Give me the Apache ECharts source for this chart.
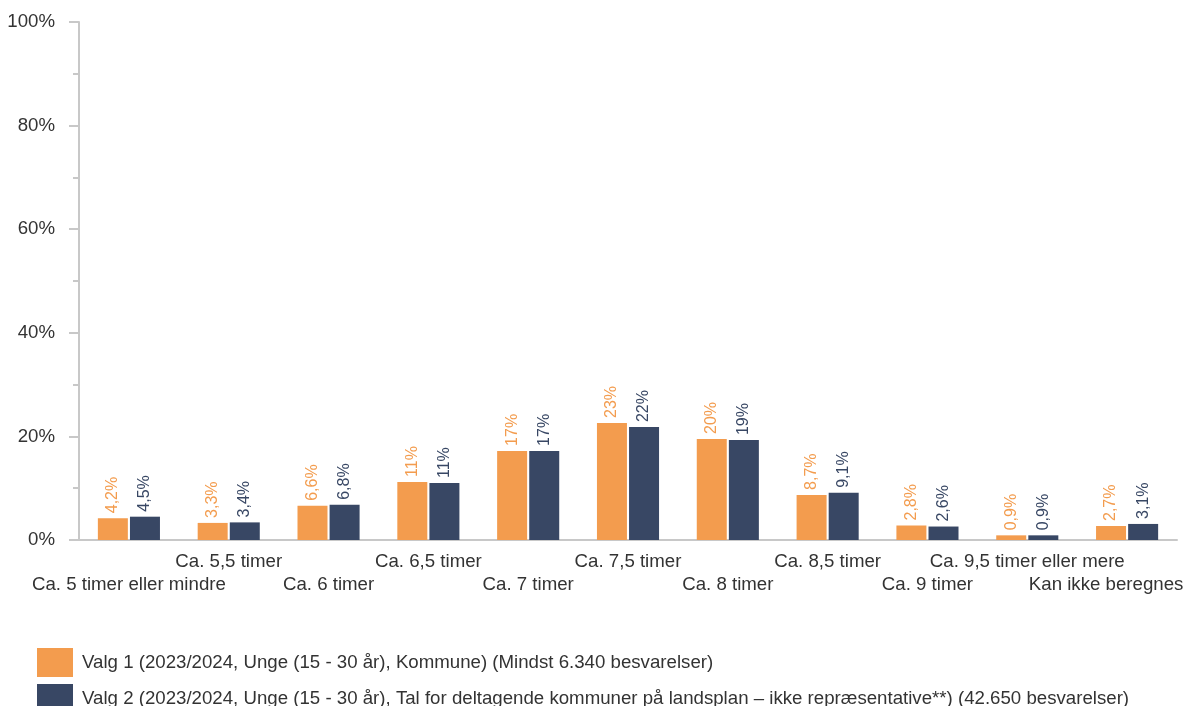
<!DOCTYPE html>
<html><head><meta charset="utf-8">
<script src="https://cdn.jsdelivr.net/npm/echarts@6/dist/echarts.min.js"></script>
<style>html,body{margin:0;padding:0;background:#fff}#c{width:1184px;height:706px}</style>
</head><body><div id="c"></div>
<script>
const categories = ["Ca. 5 timer eller mindre","Ca. 5,5 timer","Ca. 6 timer","Ca. 6,5 timer","Ca. 7 timer","Ca. 7,5 timer","Ca. 8 timer","Ca. 8,5 timer","Ca. 9 timer","Ca. 9,5 timer eller mere","Kan ikke beregnes"];
const seriesNames = ["Valg 1 (2023/2024, Unge (15 - 30 år), Kommune) (Mindst 6.340 besvarelser)","Valg 2 (2023/2024, Unge (15 - 30 år), Tal for deltagende kommuner på landsplan – ikke repræsentative**) (42.650 besvarelser)"];
const valg1 = [4.2,3.3,6.6,11.2,17.2,22.6,19.5,8.7,2.8,0.9,2.7];
const valg2 = [4.5,3.4,6.8,11.0,17.2,21.8,19.3,9.1,2.6,0.9,3.1];
const yTicks = [0,20,40,60,80,100];
const colors = ["#F39C4E","#384764"];
const FONT = "'Liberation Sans', Arial, sans-serif";
const FS = 18.67;
function fmt(v){ return (v>=10 ? Math.round(v).toString() : v.toFixed(1).replace('.',',')) + '%'; }
function mkSeries(name, data, color){
  return {name, type:'bar', data, barWidth:30, barGap:'7%', itemStyle:{color},
    label:{show:true, position:'top', rotate:90, align:'left', verticalAlign:'middle', distance:5,
      color, fontSize:16, fontFamily:FONT, formatter:p=>fmt(p.value)}};
}
function mkLegend(name, top){
  return {orient:'horizontal', left:32, top, itemWidth:36, itemHeight:29, itemGap:8, icon:'rect',
    textStyle:{fontSize:FS, color:'#333', fontFamily:FONT, padding:[0,0,0,4]}, data:[name]};
}
const xData = categories.map((c,i)=> i===categories.length-1 ? {value:c, textStyle:{padding:[0,42,0,0]}} : c);
const chart = echarts.init(document.getElementById('c'));
chart.setOption({
  animation:false,
  grid:{left:79, right:7, top:22, bottom:166, containLabel:false, outerBoundsMode:'none'},
  legend:[mkLegend(seriesNames[0], 643), mkLegend(seriesNames[1], 679)],
  xAxis:{type:'category', data:xData,
    axisLine:{lineStyle:{color:'#c8c8c8', width:2}}, axisTick:{show:false},
    axisLabel:{interval:0, color:'#333', fontSize:FS, fontFamily:FONT, margin:10, lineHeight:23, hideOverlap:false,
      formatter:(v,i)=> i%2===0 ? '\n'+v : v}},
  yAxis:{type:'value', min:yTicks[0], max:yTicks[yTicks.length-1], interval:20,
    axisLine:{show:true, lineStyle:{color:'#c8c8c8', width:2}},
    axisTick:{show:true, length:10, lineStyle:{color:'#c8c8c8', width:2}},
    minorTick:{show:true, splitNumber:2, length:6, lineStyle:{color:'#c8c8c8', width:2}},
    splitLine:{show:false},
    axisLabel:{color:'#333', fontSize:FS, fontFamily:FONT, margin:24, formatter:v=>v+'%'}},
  series:[mkSeries(seriesNames[0], valg1, colors[0]), mkSeries(seriesNames[1], valg2, colors[1])]
});
</script></body></html>
